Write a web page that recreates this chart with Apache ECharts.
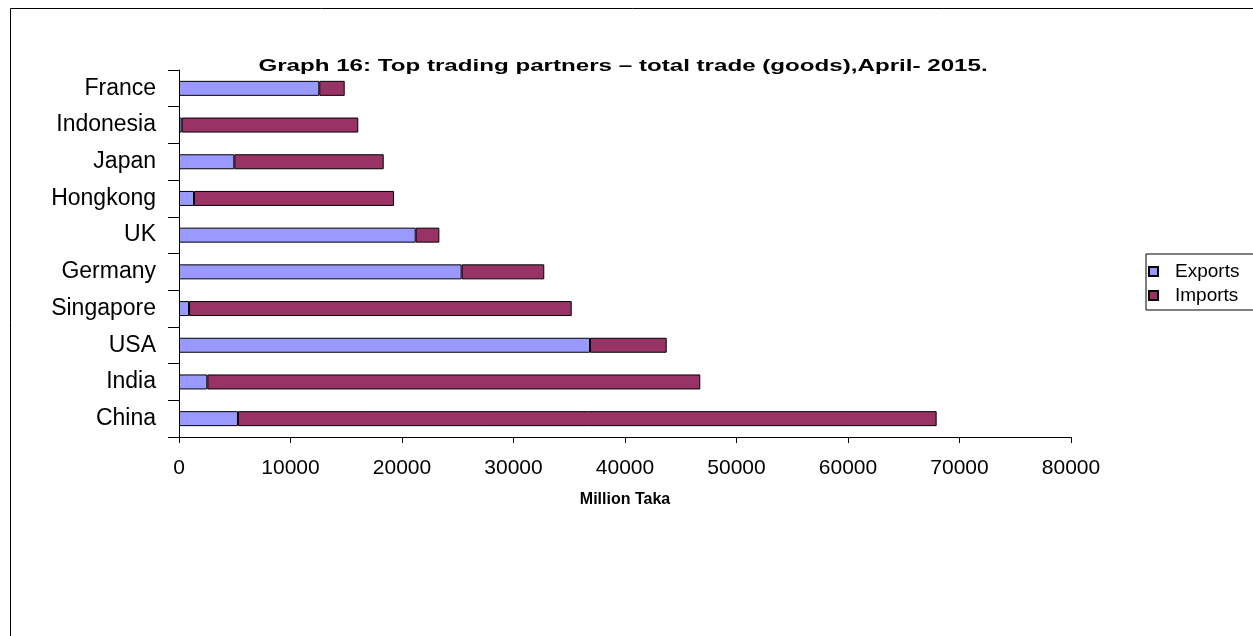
<!DOCTYPE html>
<html>
<head>
<meta charset="utf-8">
<script src="https://cdn.jsdelivr.net/npm/echarts@6/dist/echarts.min.js"></script>
<style>
  html, body { margin: 0; padding: 0; background: #fff; }
  #chart { width: 1253px; height: 636px; }
</style>
</head>
<body>
<div id="chart"></div>
<script>
// countries, bottom to top (ECharts puts the first category at the bottom)
const countries = ['China', 'India', 'USA', 'Singapore', 'Germany', 'UK', 'Hongkong', 'Japan', 'Indonesia', 'France'];
// million Taka
const exportsData = [5290, 2540, 36860, 900, 25350, 21230, 1350, 4960, 240, 12580];
const importsData = [62660, 44210, 6880, 34320, 7410, 2120, 17930, 13400, 15840, 2280];
const xTicks = { min: 0, max: 80000, interval: 10000 };
const titleText = 'Graph 16: Top trading partners – total trade (goods),April- 2015.';

const chart = echarts.init(document.getElementById('chart'));

const option = {
  animation: false,
  backgroundColor: '#fff',
  textStyle: { fontFamily: 'Liberation Sans, Arial, sans-serif', color: '#000' },
  legend: {
    orient: 'vertical',
    left: 1146,
    top: 254,
    itemWidth: 9,
    itemHeight: 9,
    itemGap: 5,
    padding: [8, 24, 5, 2],
    borderColor: '#000',
    borderWidth: 1,
    icon: 'rect',
    textStyle: { fontSize: 19, color: '#000', padding: [0, 0, 0, 12] },
    data: ['Exports', 'Imports']
  },
  grid: { left: 179, right: 182, top: 70, bottom: 199 },
  xAxis: {
    type: 'value',
    min: xTicks.min,
    max: xTicks.max,
    interval: xTicks.interval,
    name: 'Million Taka',
    nameLocation: 'middle',
    nameGap: 55,
    nameTextStyle: { fontSize: 16, fontWeight: 'bold', color: '#000' },
    axisLine: { show: true, lineStyle: { color: '#000', width: 1 } },
    axisTick: { show: true, length: 6, lineStyle: { color: '#000' } },
    axisLabel: {
      fontSize: 21,
      color: '#000',
      margin: 21,
      formatter: v => String(v)
    },
    splitLine: { show: false }
  },
  yAxis: {
    type: 'category',
    data: countries,
    axisLine: { show: true, lineStyle: { color: '#000', width: 1 } },
    axisTick: { show: true, length: 11, lineStyle: { color: '#000' } },
    axisLabel: { fontSize: 23, color: '#000', margin: 23 }
  },
  series: [
    {
      name: 'Exports',
      type: 'bar',
      stack: 'trade',
      barWidth: 15,
      data: exportsData,
      itemStyle: { color: '#9999FF', borderColor: '#000', borderWidth: 1 }
    },
    {
      name: 'Imports',
      type: 'bar',
      stack: 'trade',
      barWidth: 15,
      data: importsData,
      itemStyle: { color: '#993366', borderColor: '#000', borderWidth: 1 }
    }
  ],
  graphic: [
    {
      type: 'rect',
      shape: { x: 10.5, y: 8.5, width: 1300, height: 700 },
      style: { fill: 'none', stroke: '#000', lineWidth: 1 },
      silent: true
    },
    {
      // the title in the original is set wide, so stretch it sideways
      type: 'text',
      x: 623,
      y: 66,
      scaleX: 1.42,
      style: {
        text: titleText,
        align: 'center',
        verticalAlign: 'middle',
        font: 'bold 17px "Liberation Sans", Arial, sans-serif',
        fill: '#000'
      },
      silent: true
    }
  ]
};

chart.setOption(option);
</script>
</body>
</html>
